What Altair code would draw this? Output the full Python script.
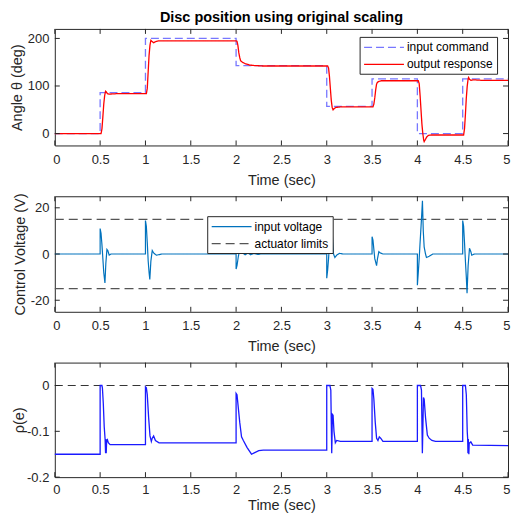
import altair as alt
import pandas as pd

# ---------------- data ----------------
x_ticks = [0, 0.5, 1, 1.5, 2, 2.5, 3, 3.5, 4, 4.5, 5]

# panel 1: disc angle
cmd_t = [0, 0.5, 1.0, 2.0, 3.0, 3.5, 4.0, 4.5, 5.0]
cmd_v = [0, 86, 200, 143, 57, 115, 0, 115, 115]

resp_t = [0, 0.5, 0.51, 0.52, 0.53, 0.54, 0.55, 0.56, 0.57, 0.58, 0.6, 0.7, 1.0,
          1.01, 1.02, 1.03, 1.04, 1.05, 1.06, 1.07, 1.09, 1.11, 1.15, 2.0,
          2.01, 2.02, 2.03, 2.04, 2.05, 2.07, 2.1, 2.15, 2.2, 2.3, 3.0,
          3.01, 3.02, 3.03, 3.04, 3.05, 3.06, 3.07, 3.08, 3.1, 3.15, 3.5,
          3.51, 3.52, 3.53, 3.54, 3.55, 3.56, 3.58, 3.6, 4.0,
          4.01, 4.02, 4.03, 4.04, 4.05, 4.06, 4.07, 4.075, 4.09, 4.1, 4.12, 4.15, 4.5,
          4.51, 4.52, 4.53, 4.54, 4.55, 4.56, 4.565, 4.575, 4.59, 4.62, 4.7, 5.0]
resp_v = [0, 0, 0, 10, 35, 62, 80, 89, 87, 84, 83, 84, 84,
          84, 95, 130, 165, 186, 196, 194, 191, 193, 195, 195,
          194, 185, 170, 160, 153, 150, 147, 144, 143, 142, 142,
          142, 138, 120, 95, 70, 55, 50, 52, 55, 56, 56,
          56, 62, 75, 92, 104, 108, 110, 111, 111,
          111, 105, 80, 50, 20, 0, -14, -17, -12, -8, -4, -3, -3,
          -3, 10, 40, 75, 100, 115, 118, 114, 112, 113, 112, 112]
top_names = ["input command", "output response"]

# panel 2: control voltage
volt_t = [0, 0.5, 0.5, 0.51, 0.52, 0.53, 0.54, 0.553, 0.563, 0.575, 0.585, 0.6, 0.62,
          1.0, 1.0, 1.01, 1.02, 1.03, 1.04, 1.048, 1.06, 1.075, 1.09, 1.12, 1.18,
          2.0, 2.0, 2.01, 2.025, 2.04, 2.05, 2.07, 2.1, 2.13, 2.16, 2.2, 2.24, 2.27,
          3.0, 3.0, 3.01, 3.02, 3.03, 3.04, 3.055, 3.065, 3.075, 3.09, 3.11, 3.14, 3.18,
          3.5, 3.5, 3.51, 3.52, 3.53, 3.55, 3.56, 3.575, 3.59, 3.62,
          4.0, 4.0, 4.01, 4.02, 4.03, 4.045, 4.056, 4.065, 4.075, 4.09, 4.1, 4.13, 4.17,
          4.5, 4.5, 4.51, 4.52, 4.53, 4.54, 4.548, 4.56, 4.575, 4.59, 4.6, 4.63, 5.0]
volt_v = [0, 0, 11, 9, 4, -2, -8, -12.5, -4, 2, 1.5, -0.5, 0,
          0, 14.5, 12, 5, -3, -8, -11, -3, 1.5, 0.5, -0.5, 0,
          0, -6.5, -5, -1, 2, 1.5, 0.5, -0.3, 0.4, -0.3, 0.3, -0.2, 0,
          0, -10.5, -7, -2, 4, 10, 15.5, 6, 0, -1.5, -0.5, 0.3, 0,
          0, 7.5, 6, 2, -2, -5, -2, 1, 0.5, 0,
          0, -13.5, -8, -2, 5, 15, 23, 10, 3, 0, -1.5, -1, 0,
          0, 14.5, 12, 5, -3, -10, -17, -5, 2.5, 1, -0.5, 0, 0]
lim_t = [0, 5, 0, 5]
lim_v = [15, 15, -15, -15]
lim_g = ["upper", "upper", "lower", "lower"]
mid_names = ["input voltage", "actuator limits"]

# panel 3: rho(e)
rho_t = [0, 0.5, 0.5, 0.52, 0.525, 0.535, 0.545, 0.555, 0.56, 0.563, 0.567, 0.572, 0.58, 0.59, 0.61, 1.0,
         1.0, 1.01, 1.02, 1.035, 1.05, 1.065, 1.075, 1.09, 1.11, 1.15, 2.0,
         2.0, 2.01, 2.02, 2.04, 2.06, 2.08, 2.12, 2.17, 2.2, 2.25, 2.3, 3.0,
         3.0, 3.035, 3.045, 3.055, 3.058, 3.062, 3.07, 3.08, 3.095, 3.11, 3.15, 3.5,
         3.5, 3.51, 3.52, 3.535, 3.55, 3.565, 3.58, 3.595, 3.62, 4.0,
         4.0, 4.035, 4.045, 4.055, 4.06, 4.067, 4.075, 4.09, 4.11, 4.13, 4.16, 4.2, 4.5,
         4.5, 4.53, 4.54, 4.55, 4.555, 4.558, 4.562, 4.568, 4.572, 4.58, 4.59, 4.61, 5.0]
rho_v = [-0.15, -0.15, 0, 0, -0.005, -0.04, -0.09, -0.118, -0.148, -0.117, -0.148, -0.12, -0.118, -0.125, -0.129, -0.129,
         -0.003, -0.005, -0.02, -0.07, -0.11, -0.122, -0.115, -0.11, -0.12, -0.125, -0.125,
         -0.017, -0.02, -0.04, -0.08, -0.112, -0.12, -0.135, -0.15, -0.147, -0.142, -0.141, -0.141,
         0, 0, -0.01, -0.148, -0.12, -0.063, -0.065, -0.1, -0.125, -0.12, -0.122, -0.122,
         -0.006, -0.008, -0.03, -0.08, -0.115, -0.12, -0.112, -0.115, -0.122, -0.122,
         0, 0, -0.01, -0.148, -0.1, -0.026, -0.03, -0.07, -0.108, -0.115, -0.12, -0.122, -0.122,
         0, 0, -0.02, -0.1, -0.117, -0.148, -0.117, -0.15, -0.125, -0.125, -0.123, -0.13, -0.131]
zero_t = [0, 5]
zero_v = [0, 0]

# ---------------- styling ----------------
FONT = "Liberation Sans"
AX = "#262626"
W = 455
H1, H2, H3 = 117, 116, 115
SPACING = 51


def x_enc(lpad=8, tpad=7):
    return alt.X("t:Q", scale=alt.Scale(domain=[0, 5], nice=False, zero=False),
                 axis=alt.Axis(values=x_ticks, title="Time (sec)", labelExpr="datum.value + ''",
                               ticks=False, domain=False, grid=False, labelPadding=lpad, titlePadding=tpad,
                               labelFontSize=13, titleFontSize=14.5, labelFont=FONT, titleFont=FONT,
                               labelColor=AX, titleColor=AX, titleFontWeight="normal",
                               labelFlush=True, labelFlushOffset=2, labelOverlap=False))


def y_enc(dom, vals, title, tpad):
    return alt.Y("v:Q", scale=alt.Scale(domain=dom, nice=False, zero=False),
                 axis=alt.Axis(values=vals, title=title, labelExpr="datum.value + ''",
                               ticks=False, domain=False, grid=False, labelPadding=6, titlePadding=tpad,
                               labelFontSize=13, titleFontSize=14.5, labelFont=FONT, titleFont=FONT,
                               labelColor=AX, titleColor=AX, titleFontWeight="normal",
                               labelFlush=False, labelOverlap=False))


def tick_layers(dom, vals, title, tpad, h, xe):
    xt = pd.DataFrame({"t": x_ticks})
    yt = pd.DataFrame({"v": vals})
    r = dict(color=AX, strokeWidth=1)
    return [
        alt.Chart(xt).mark_rule(**r).encode(x=xe, y=alt.value(h), y2=alt.value(h - 5)),
        alt.Chart(xt).mark_rule(**r).encode(x=xe, y=alt.value(0), y2=alt.value(5)),
        alt.Chart(yt).mark_rule(**r).encode(y=y_enc(dom, vals, title, tpad), x=alt.value(0), x2=alt.value(5)),
        alt.Chart(yt).mark_rule(**r).encode(y=y_enc(dom, vals, title, tpad), x=alt.value(W - 5), x2=alt.value(W)),
    ]


# long thin stroke symbol: 40 px long, 12 px row box
SYM = "M-1,0H5.67"


def legend(lx, ly, extra=""):
    return alt.Legend(title=None, orient="none", legendX=lx, legendY=ly,
                      strokeColor=AX, fillColor="white", padding=3.5, cornerRadius=0,
                      symbolType=SYM, symbolSize=144, symbolStrokeWidth=1.3,
                      labelFont=FONT, labelFontSize=12, labelColor="black", labelOffset=30,
                      rowPadding=4, labelExpr="datum.label + '" + extra + "'")


# ---------------- panel 1 ----------------
d1 = dict(dom=[-25, 220], vals=[0, 100, 200], title="Angle θ (deg)", tpad=3)
cmd_df = pd.DataFrame({"t": cmd_t, "v": cmd_v, "s": top_names[0]})
resp_df = pd.DataFrame({"t": resp_t, "v": resp_v, "s": top_names[1], "i": range(len(resp_t))})
leg1 = legend(306, 8, "    ")
col1 = alt.Color("s:N", scale=alt.Scale(domain=top_names, range=["#7777ff", "#ff0000"]), legend=leg1)
dash1 = alt.StrokeDash("s:N", scale=alt.Scale(domain=top_names, range=[[8, 4], [1, 0]]), legend=leg1)
xe1 = x_enc()
cmd_line = alt.Chart(cmd_df).mark_line(interpolate="step-after", strokeWidth=1.3).encode(
    x=xe1, y=y_enc(**d1), color=col1, strokeDash=dash1)
resp_line = alt.Chart(resp_df).mark_line(strokeWidth=1.3).encode(
    x=xe1, y=y_enc(**d1), color=col1, strokeDash=dash1, order="i:Q")
p1 = alt.layer(cmd_line, resp_line, *tick_layers(**d1, h=H1, xe=xe1)).properties(
    width=W, height=H1,
    title=alt.TitleParams("Disc position using original scaling", font=FONT, fontSize=14.5,
                          fontWeight="bold", color="black", anchor="middle", offset=3))

# ---------------- panel 2 ----------------
d2 = dict(dom=[-25, 25], vals=[-20, 0, 20], title="Control Voltage (V)", tpad=3)
volt_df = pd.DataFrame({"t": volt_t, "v": volt_v, "s": mid_names[0], "g": "v", "i": range(len(volt_t))})
lim_df = pd.DataFrame({"t": lim_t, "v": lim_v, "s": mid_names[1], "g": lim_g, "i": range(len(lim_t))})
leg2 = legend(153, 20, " ")
col2 = alt.Color("s:N", scale=alt.Scale(domain=mid_names, range=["#0072BD", "#555555"]), legend=leg2)
dash2 = alt.StrokeDash("s:N", scale=alt.Scale(domain=mid_names, range=[[1, 0], [9, 5]]), legend=leg2)
xe2 = x_enc()
volt_line = alt.Chart(volt_df).mark_line(strokeWidth=1.2).encode(
    x=xe2, y=y_enc(**d2), color=col2, strokeDash=dash2, order="i:Q")
lim_line = alt.Chart(lim_df).mark_line(strokeWidth=1.2).encode(
    x=xe2, y=y_enc(**d2), color=col2, strokeDash=dash2, detail="g:N", order="i:Q")
p2 = alt.layer(lim_line, volt_line, *tick_layers(**d2, h=H2, xe=xe2)).properties(width=W, height=H2)

# ---------------- panel 3 ----------------
d3 = dict(dom=[-0.2, 0.05], vals=[-0.2, -0.1, 0], title="ρ(e)", tpad=0.5)
rho_df = pd.DataFrame({"t": rho_t, "v": rho_v, "i": range(len(rho_t))})
zero_df = pd.DataFrame({"t": zero_t, "v": zero_v})
xe3 = x_enc(6, 2)
zero_line = alt.Chart(zero_df).mark_line(color="#333333", strokeWidth=1, strokeDash=[8, 5]).encode(
    x=xe3, y=y_enc(**d3))
rho_line = alt.Chart(rho_df).mark_line(color="#1a1aff", strokeWidth=1.3).encode(
    x=xe3, y=y_enc(**d3), order="i:Q")
p3 = alt.layer(zero_line, rho_line, *tick_layers(**d3, h=H3, xe=xe3)).properties(width=W, height=H3)

chart = alt.vconcat(p1, p2, p3, spacing=SPACING, bounds="flush").resolve_scale(
    color="independent", strokeDash="independent"
).properties(
    padding={"left": 0, "top": 0, "right": 0, "bottom": 0}
).configure_view(stroke=AX, strokeWidth=1)

chart.save("out.html", embed_options={"renderer": "svg", "actions": False})
